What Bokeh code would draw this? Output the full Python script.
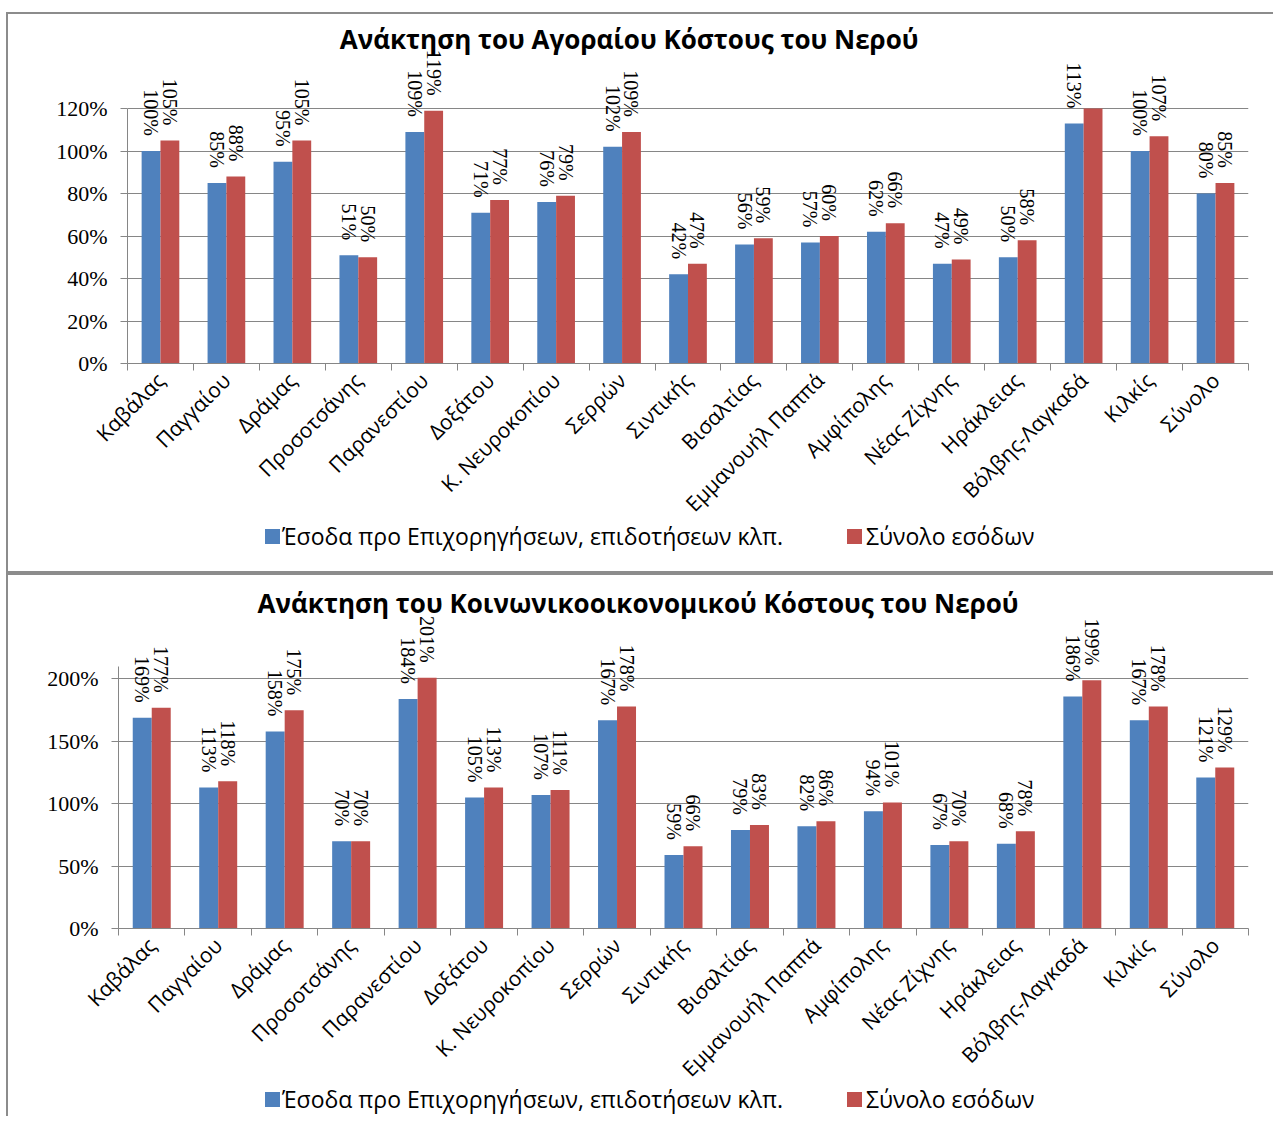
import numpy as np
from bokeh.plotting import figure
from bokeh.models import (ColumnDataSource, Range1d, FixedTicker, NumeralTickFormatter,
                          LabelSet, Label, Spacer, Div)
from bokeh.layouts import column
from bokeh.core.properties import value
from bokeh.embed import file_html
from bokeh.resources import INLINE

# ---------------- data ----------------
categories = ["Καβάλας", "Παγγαίου", "Δράμας", "Προσοτσάνης", "Παρανεστίου", "Δοξάτου",
              "Κ. Νευροκοπίου", "Σερρών", "Σιντικής", "Βισαλτίας", "Εμμανουήλ Παππά",
              "Αμφίπολης", "Νέας Ζίχνης", "Ηράκλειας", "Βόλβης-Λαγκαδά", "Κιλκίς", "Σύνολο"]

series_names = ["Έσοδα προ Επιχορηγήσεων, επιδοτήσεων κλπ.", "Σύνολο εσόδων"]

market_title = "Ανάκτηση του Αγοραίου  Κόστους του Νερού"
market_before_subsidies = [100, 85, 95, 51, 109, 71, 76, 102, 42, 56, 57, 62, 47, 50, 113, 100, 80]
market_total = [105, 88, 105, 50, 119, 77, 79, 109, 47, 59, 60, 66, 49, 58, 120, 107, 85]
market_total_hidden_labels = ["Βόλβης-Λαγκαδά"]
market_ticks = [0, 20, 40, 60, 80, 100, 120]
market_ymax = 120

social_title = "Ανάκτηση του Κοινωνικοοικονομικού  Κόστους του Νερού"
social_before_subsidies = [169, 113, 158, 70, 184, 105, 107, 167, 59, 79, 82, 94, 67, 68, 186, 167, 121]
social_total = [177, 118, 175, 70, 201, 113, 111, 178, 66, 83, 86, 101, 70, 78, 199, 178, 129]
social_total_hidden_labels = []
social_ticks = [0, 50, 100, 150, 200]
social_ymax = 210

# ---------------- style ----------------
BLUE = "#4F81BD"
RED = "#C0504D"
GRID = "#868686"
BORDER = "#8C8C8C"
SANS = "Open Sans"
SERIF = "Liberation Serif"
W = 1267
border = f"2px solid {BORDER}"
SERIES_COLORS = [BLUE, RED]


def make_chart(title, blue, red, hidden, ticks, ymax, height, left, right, top, bottom,
               axis_px, title_pos, styles):
    n = len(categories)
    idx = np.arange(n)
    bw = 1.0 / 3.5
    frame_h = height - top - bottom
    y_end = ymax / 100 * frame_h / axis_px   # frame extends above the axis to host labels/title
    p = figure(width=W, height=height, x_range=Range1d(-0.5, n - 0.5),
               y_range=Range1d(0, y_end), output_backend="svg", toolbar_location=None,
               min_border_left=left, min_border_right=right,
               min_border_top=top, min_border_bottom=bottom)
    p.styles = styles

    src_b = ColumnDataSource(dict(x=idx - bw / 2, y=np.array(blue) / 100,
                                  lab=[f"{v}%" for v in blue]))
    src_r = ColumnDataSource(dict(x=idx + bw / 2, y=np.array(red) / 100,
                                  lab=["" if c in hidden else f"{v}%" for c, v in zip(categories, red)]))
    p.vbar(x="x", top="y", width=bw, source=src_b, fill_color=BLUE, line_color=None)
    p.vbar(x="x", top="y", width=bw, source=src_r, fill_color=RED, line_color=None)

    for src in (src_b, src_r):
        p.add_layout(LabelSet(x="x", y="y", text="lab", source=src, angle=-np.pi / 2,
                              text_align="right", text_baseline="middle", y_offset=15,
                              text_font=value(SERIF), text_font_size="20px",
                              text_color="black"))

    p.add_layout(Label(x=title_pos[0], y=title_pos[1], x_units="screen", y_units="screen",
                       text=title, text_font=SANS, text_font_style="bold",
                       text_font_size="26px", text_align="center", text_baseline="middle",
                       text_color="black"))

    # y axis
    p.yaxis.ticker = FixedTicker(ticks=[t / 100 for t in ticks])
    p.yaxis.bounds = (0, ymax / 100)
    p.yaxis.formatter = NumeralTickFormatter(format="0%")
    p.yaxis.major_label_text_font = SERIF
    p.yaxis.major_label_text_font_size = "22px"
    p.yaxis.major_label_text_color = "black"
    p.yaxis.axis_line_color = GRID
    p.yaxis.major_tick_line_color = GRID
    p.yaxis.major_tick_out = 7
    p.yaxis.major_tick_in = 0
    p.yaxis.minor_tick_line_color = None
    p.yaxis.major_label_standoff = 13

    # x axis
    p.xaxis.ticker = FixedTicker(ticks=[int(i) for i in idx],
                                 minor_ticks=[float(i) - 0.5 for i in range(n + 1)])
    p.xaxis.major_label_overrides = {int(i): c for i, c in zip(idx, categories)}
    p.xaxis.major_label_orientation = np.pi / 4
    p.xaxis.major_label_text_font = SANS
    p.xaxis.major_label_text_font_size = "21px"
    p.xaxis.major_label_text_color = "black"
    p.xaxis.axis_line_color = GRID
    p.xaxis.major_tick_in = 0
    p.xaxis.major_tick_out = 0
    p.xaxis.minor_tick_in = 0
    p.xaxis.minor_tick_out = 7
    p.xaxis.minor_tick_line_color = GRID
    p.xaxis.major_label_standoff = 6

    p.xgrid.visible = False
    p.ygrid.grid_line_color = GRID
    p.outline_line_color = None
    return p


def make_legend(height, swatch_top, overlap, styles):
    swatch_left = [257, 839]
    text_left = [274, 858]
    parts = []
    for name, color, sx, tx in zip(series_names, SERIES_COLORS, swatch_left, text_left):
        parts.append(f'<span style="position:absolute;left:{sx}px;top:{swatch_top}px;'
                     f'width:15px;height:15px;background:{color};"></span>')
        parts.append(f'<span style="position:absolute;left:{tx}px;top:{swatch_top - 8}px;'
                     f'line-height:30px;font-family:\'{SANS}\';font-size:23px;color:#000;'
                     f'white-space:nowrap;">{name}</span>')
    html = (f'<div style="position:relative;width:{W}px;height:{height}px;">'
            + "".join(parts) + "</div>")
    return Div(text=html, width=W, height=height, margin=(-overlap, 0, 0, 6), styles=styles)


p1 = make_chart(market_title, market_before_subsidies, market_total, market_total_hidden_labels,
                market_ticks, market_ymax, height=524, left=119, right=27, top=6, bottom=175,
                axis_px=255, title_pos=(505, 325),
                styles={"margin-left": "6px", "border-left": border, "border-top": border})
l1 = make_legend(52, 8, 15, {"border-left": border, "border-bottom": border})
p2 = make_chart(social_title, social_before_subsidies, social_total, social_total_hidden_labels,
                social_ticks, social_ymax, height=528, left=110, right=27, top=6, bottom=175,
                axis_px=262, title_pos=(523, 326),
                styles={"margin-left": "6px", "border-left": border, "border-top": border})
l2 = make_legend(30, 6, 15, {"border-left": border})

layout = column(Spacer(height=12), column(p1, l1), column(p2, l2))
open("out.html", "w").write(file_html(layout, INLINE))
